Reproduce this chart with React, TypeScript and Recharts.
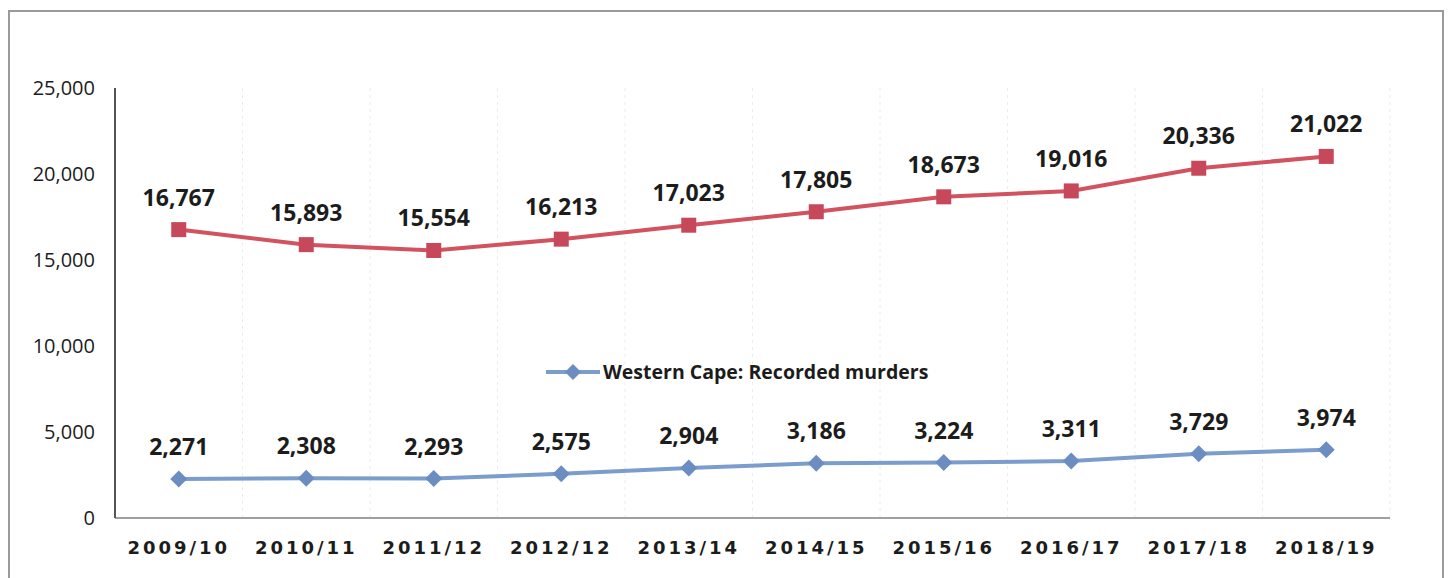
import React from 'react';
import { LineChart, Line, XAxis, YAxis, CartesianGrid, LabelList, Legend } from 'recharts';

const years = ['2009/10', '2010/11', '2011/12', '2012/12', '2013/14', '2014/15', '2015/16', '2016/17', '2017/18', '2018/19'];
const nationalMurders = [16767, 15893, 15554, 16213, 17023, 17805, 18673, 19016, 20336, 21022];
const westernCapeMurders = [2271, 2308, 2293, 2575, 2904, 3186, 3224, 3311, 3729, 3974];
const yTicks = [0, 5000, 10000, 15000, 20000, 25000];

const data = years.map((year, i) => ({
    year,
    national: nationalMurders[i],
    westernCape: westernCapeMurders[i],
}));

const RED = '#d2525f';
const RED_DARK = '#c7485a';
const BLUE = '#7b9dcc';
const BLUE_DARK = '#6b8dc2';
const TEXT = '#1c1c1c';

const fmt = (v: number) => v.toLocaleString('en-US');

function SquareDot(props: any) {
    const { cx, cy, index } = props;
    return <rect key={`sq-${index}`} x={cx - 7.5} y={cy - 7.5} width={15} height={15} fill={RED_DARK} />;
}

function DiamondDot(props: any) {
    const { cx, cy, index } = props;
    return (
        <path
            key={`dm-${index}`}
            d={`M${cx},${cy - 8.5} L${cx + 8.5},${cy} L${cx},${cy + 8.5} L${cx - 8.5},${cy} Z`}
            fill={BLUE_DARK}
        />
    );
}

function LegendContent() {
    return (
        <div style={{ display: 'flex', alignItems: 'center' }}>
            <svg width={57} height={20}>
                <line x1={0} y1={10} x2={54} y2={10} stroke={BLUE} strokeWidth={4} />
                <path d="M27,2 L35,10 L27,18 L19,10 Z" fill={BLUE_DARK} />
            </svg>
            <span style={{ fontFamily: '"Open Sans", sans-serif', fontWeight: 700, fontSize: 19.5, color: TEXT, whiteSpace: 'nowrap' }}>
                Western Cape: Recorded murders
            </span>
        </div>
    );
}

export default function App() {
    return (
        <div style={{ position: 'absolute', left: 0, top: 0, width: 1450, height: 578, overflow: 'hidden', background: '#fff' }}>
            <div
                style={{
                    position: 'absolute',
                    left: 8,
                    top: 10,
                    width: 1436,
                    height: 600,
                    border: '2px solid #9a9a9a',
                    boxSizing: 'border-box',
                }}
            />
            <div style={{ position: 'absolute', left: 0, top: 0 }}>
                <LineChart width={1450} height={578} data={data} margin={{ top: 88, right: 60, bottom: 20, left: 15 }}>
                    <CartesianGrid
                        horizontal={false}
                        stroke="#ececec"
                        strokeDasharray="3 4"
                        verticalCoordinatesGenerator={({ offset }: any) =>
                            years.map((_, i) => offset.left + ((i + 1) * offset.width) / years.length)
                        }
                    />
                    <XAxis
                        dataKey="year"
                        height={40}
                        padding={{ left: 63.75, right: 63.75 }}
                        axisLine={{ stroke: '#a0a0a0', strokeWidth: 2 }}
                        tickLine={false}
                        tickSize={6}
                        tickMargin={17}
                        tick={{ fill: TEXT, fontFamily: '"DejaVu Sans", sans-serif', fontWeight: 700, fontSize: 18, letterSpacing: 3 }}
                        interval={0}
                    />
                    <YAxis
                        width={100}
                        domain={[0, 25000]}
                        ticks={yTicks}
                        tickFormatter={fmt}
                        axisLine={{ stroke: '#555', strokeWidth: 2 }}
                        tickLine={false}
                        tickSize={6}
                        tickMargin={14}
                        tick={{ fill: TEXT, fontFamily: '"Open Sans", sans-serif', fontSize: 20 }}
                    />
                    <Legend
                        verticalAlign="middle"
                        content={<LegendContent />}
                        wrapperStyle={{ position: 'absolute', left: 546, top: 358, width: 'auto' }}
                    />
                    <Line
                        type="linear"
                        dataKey="national"
                        name="South Africa: Recorded murders"
                        stroke={RED}
                        strokeWidth={4}
                        dot={<SquareDot />}
                        activeDot={false}
                        legendType="none"
                        isAnimationActive={false}
                    >
                        <LabelList
                            dataKey="national"
                            position="top"
                            offset={24}
                            formatter={(v: any) => fmt(Number(v))}
                            style={{ fill: TEXT, fontFamily: '"Open Sans", sans-serif', fontWeight: 700, fontSize: 23 }}
                        />
                    </Line>
                    <Line
                        type="linear"
                        dataKey="westernCape"
                        name="Western Cape: Recorded murders"
                        stroke={BLUE}
                        strokeWidth={4}
                        dot={<DiamondDot />}
                        activeDot={false}
                        isAnimationActive={false}
                    >
                        <LabelList
                            dataKey="westernCape"
                            position="top"
                            offset={24}
                            formatter={(v: any) => fmt(Number(v))}
                            style={{ fill: TEXT, fontFamily: '"Open Sans", sans-serif', fontWeight: 700, fontSize: 23 }}
                        />
                    </Line>
                </LineChart>
            </div>
        </div>
    );
}
